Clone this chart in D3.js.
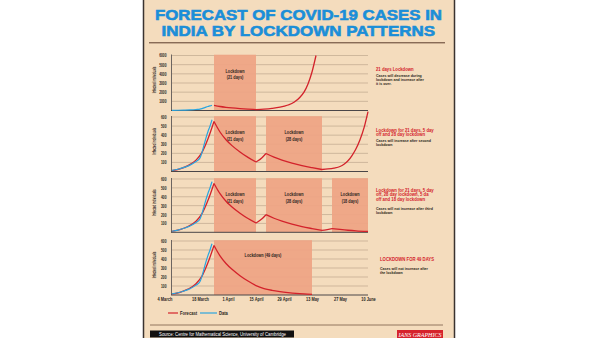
<!DOCTYPE html>
<html>
<head>
<meta charset="utf-8">
<script src="https://cdn.jsdelivr.net/npm/d3@7"></script>
<style>
  body { margin: 0; background: #fff; }
  svg { display: block; }
  text { font-family: "Liberation Sans", Arial, sans-serif; }
</style>
</head>
<body>
<svg id="chart" width="600" height="338"></svg>
<script>
// Reported cases
const observed = [
  ["2020-03-04", 12], ["2020-03-07", 25], ["2020-03-10", 45], ["2020-03-13", 70],
  ["2020-03-16", 110], ["2020-03-18", 150], ["2020-03-19", 210], ["2020-03-20", 290],
  ["2020-03-21", 370], ["2020-03-22", 440], ["2020-03-23", 500], ["2020-03-24", 570]
];

// Forecast pieces, one per phase
const riseToLockdown = [
  ["2020-03-04", 10], ["2020-03-08", 30], ["2020-03-12", 65], ["2020-03-16", 125],
  ["2020-03-19", 210], ["2020-03-22", 360], ["2020-03-25", 550]
];
const firstLockdown = [
  ["2020-03-25", 550], ["2020-03-28", 435], ["2020-03-31", 350], ["2020-04-03", 285],
  ["2020-04-07", 215], ["2020-04-11", 155], ["2020-04-15", 105]
];
const reopenAfter21 = [
  ["2020-04-19", 150], ["2020-04-23", 230], ["2020-04-27", 360], ["2020-05-01", 600],
  ["2020-05-04", 900], ["2020-05-07", 1450], ["2020-05-09", 2000], ["2020-05-11", 2900],
  ["2020-05-13", 4200], ["2020-05-15", 6000]
];
const fiveDayBreak = [["2020-04-16", 118], ["2020-04-18", 152], ["2020-04-20", 198]];
const secondLockdown = [
  ["2020-04-24", 158], ["2020-04-28", 126], ["2020-05-03", 92], ["2020-05-08", 64],
  ["2020-05-13", 42], ["2020-05-18", 22]
];
const reopenAfter28 = [
  ["2020-05-21", 28], ["2020-05-24", 38], ["2020-05-27", 55], ["2020-05-29", 80],
  ["2020-05-31", 118], ["2020-06-02", 175], ["2020-06-04", 250], ["2020-06-06", 350],
  ["2020-06-08", 480], ["2020-06-10", 660]
];
const secondBreak = [["2020-05-20", 28], ["2020-05-23", 42]];
const thirdLockdown = [["2020-05-27", 32], ["2020-05-31", 23], ["2020-06-04", 16], ["2020-06-10", 10]];
const longLockdown = [
  ["2020-04-19", 72], ["2020-04-23", 52], ["2020-04-27", 38], ["2020-05-01", 27],
  ["2020-05-05", 18], ["2020-05-09", 12], ["2020-05-13", 8]
];

// Lockdown windows
const lockdowns21 = [["2020-03-25", "2020-04-15", "(21 days)"]];
const lockdowns21_28 = [["2020-03-25", "2020-04-15", "(21 days)"], ["2020-04-20", "2020-05-18", "(28 days)"]];
const lockdowns21_28_18 = [...lockdowns21_28, ["2020-05-23", "2020-06-10", "(18 days)"]];
const lockdowns49 = [["2020-03-25", "2020-05-13", "(49 days)"]];

const ticksThousands = [1000, 2000, 3000, 4000, 5000, 6000];
const ticksHundreds = [100, 200, 300, 400, 500, 600];
const xTicks = ["2020-03-04", "2020-03-18", "2020-04-01", "2020-04-15", "2020-04-29", "2020-05-13", "2020-05-27", "2020-06-10"];

const notes = [
  { head: ["21 days Lockdown"], body: ["Cases will decrease during", "lockdown and increase after", "it is over."] },
  { head: ["Lockdown for 21 days, 5 day", "off and 28 day lockdown"], body: ["Cases will increase after second", "lockdown"] },
  { head: ["Lockdown for 21 days, 5 day", "off, 28 day lockdown, 5 da", "off and 18 day lockdown"], body: ["Cases will not increase after third", "lockdown"] },
  { head: ["LOCKDOWN FOR 49 DAYS"], body: ["Cases will not increase after", "the lockdown"] }
];

const parse = d3.timeParse("%Y-%m-%d");
const toPts = arr => arr.map(([d, v]) => [parse(d), v]);

const panels = [
  { max: 6000, ticks: ticksThousands, y0: 110.5, y1: 55.5, windows: lockdowns21,
    phases: [firstLockdown, reopenAfter21], note: notes[0], headY: 70.5, bodyY: 77.4, noteX: 376 },
  { max: 600, ticks: ticksHundreds, y0: 171.5, y1: 117, windows: lockdowns21_28,
    phases: [riseToLockdown, firstLockdown, fiveDayBreak, secondLockdown, reopenAfter28], note: notes[1], headY: 131.6, bodyY: 142, noteX: 376 },
  { max: 600, ticks: ticksHundreds, y0: 232.3, y1: 179, windows: lockdowns21_28_18,
    phases: [riseToLockdown, firstLockdown, fiveDayBreak, secondLockdown, secondBreak, thirdLockdown], note: notes[2], headY: 191.5, bodyY: 210, noteX: 376 },
  { max: 600, ticks: ticksHundreds, y0: 295, y1: 241, windows: lockdowns49,
    phases: [riseToLockdown, firstLockdown.concat(longLockdown)], note: notes[3], headY: 261.3, bodyY: 270, noteX: 380 }
];

const svg = d3.select("#chart");
const RED = "#d3222b", BLUE = "#2aa5df", INK = "#2a2420";

function squeeze(sel, k) {
  sel.each(function () {
    const w = this.getComputedTextLength();
    d3.select(this).attr("textLength", w * k).attr("lengthAdjust", "spacingAndGlyphs");
  });
}

// Poster background and side borders
svg.append("rect").attr("x", 143).attr("y", 0).attr("width", 312).attr("height", 338).attr("fill", "#f4dcbd");
[143.5, 454.5].forEach(bx => svg.append("line").attr("x1", bx).attr("x2", bx).attr("y1", 0).attr("y2", 338)
  .attr("stroke", "#3a3330").attr("stroke-width", 1.5));

// Headline
const title = svg.append("g").attr("fill", "#1b8ed8").attr("stroke", "#1b8ed8").attr("stroke-width", 0.6)
  .style("font-family", "Lato, 'DejaVu Sans', sans-serif").style("font-weight", 900).style("font-size", "15px");
title.append("text").attr("x", 155).attr("y", 19.5).attr("textLength", 287).attr("lengthAdjust", "spacingAndGlyphs")
  .text("FORECAST OF COVID-19 CASES IN");
title.append("text").attr("x", 161.5).attr("y", 36).attr("textLength", 273.5).attr("lengthAdjust", "spacingAndGlyphs")
  .text("INDIA BY LOCKDOWN PATTERNS");
svg.append("line").attr("x1", 149).attr("x2", 445).attr("y1", 42.8).attr("y2", 42.8)
  .attr("stroke", "#5a3b2b").attr("stroke-width", 1);

const x = d3.scaleTime().domain([parse("2020-03-04"), parse("2020-06-10")]).range([172, 368]);

panels.forEach(p => {
  const y = d3.scaleLinear().domain([0, p.max]).range([p.y0, p.y1]);
  const g = svg.append("g");

  // gridlines
  g.selectAll("line.grid").data(p.ticks).join("line")
    .attr("x1", 172).attr("x2", 368).attr("y1", d => y(d)).attr("y2", d => y(d))
    .attr("stroke", "#bfa88e").attr("stroke-width", 0.7);

  // lockdown windows
  p.windows.forEach(([s, e, label]) => {
    const x0 = x(parse(s)), x1 = x(parse(e));
    g.append("rect").attr("x", x0).attr("y", y(p.max) - 0.8).attr("width", x1 - x0).attr("height", y(0) - y(p.max) + 0.8)
      .attr("fill", "#eea485").attr("opacity", 0.95);
    const cx = (x0 + x1) / 2;
    const lbl = g.append("g").attr("fill", INK).style("font-size", "5.5px").style("font-weight", "bold")
      .attr("text-anchor", "middle");
    if (p.windows === lockdowns49) {
      lbl.append("text").attr("x", cx).attr("y", y(p.max) + 16).text("Lockdown " + label);
    } else {
      lbl.append("text").attr("x", cx).attr("y", y(p.max) + 17).text("Lockdown");
      lbl.append("text").attr("x", cx).attr("y", y(p.max) + 23.6).text(label);
    }
    squeeze(lbl.selectAll("text"), 0.7);
  });

  // axes
  const ya = g.append("g").attr("transform", "translate(172,0)")
    .call(d3.axisLeft(y).tickValues(p.ticks).tickSize(0).tickPadding(5.5).tickFormat(d3.format("d")));
  ya.select(".domain").remove();
  ya.selectAll("text").attr("fill", INK).style("font-size", "4.6px").style("font-weight", "bold")
    .style("font-family", "'Liberation Sans', Arial, sans-serif");
  squeeze(ya.selectAll("text"), 0.72);

  g.append("line").attr("x1", 171.5).attr("x2", 171.5).attr("y1", y(p.max) - 1).attr("y2", y(0))
    .attr("stroke", "#4a4648").attr("stroke-width", 0.8);
  g.append("line").attr("x1", 171).attr("x2", 368).attr("y1", y(0)).attr("y2", y(0))
    .attr("stroke", "#4a4648").attr("stroke-width", 1);

  const yl = g.append("text")
    .attr("transform", `translate(156,${(p.y0 + p.y1) / 2 - 3}) rotate(-90)`)
    .attr("text-anchor", "middle").attr("fill", INK).style("font-size", "4.6px").style("font-weight", "bold")
    .text("Infected individuals");
  squeeze(yl, 0.62);

  // curves
  const line = d3.line().x(d => x(d[0])).y(d => y(d[1])).curve(d3.curveMonotoneX);
  let prev = null;
  p.phases.forEach(ph => {
    let pts = toPts(ph);
    if (prev && +prev[0] !== +pts[0][0]) pts = [prev, ...pts];
    g.append("path").attr("d", line(pts)).attr("fill", "none").attr("stroke", RED)
      .attr("stroke-width", 1.3).attr("stroke-linejoin", "round");
    prev = pts[pts.length - 1];
  });
  g.append("path").attr("d", line(toPts(observed))).attr("fill", "none").attr("stroke", BLUE)
    .attr("stroke-width", 1.2);

  // side notes
  const n = svg.append("g");
  const head = n.selectAll("text.head").data(p.note.head).join("text")
    .attr("x", p.noteX).attr("y", (d, i) => p.headY + i * 4.8)
    .attr("fill", RED).style("font-size", "5.3px").style("font-weight", "bold").text(d => d);
  squeeze(head, 0.8);
  const body = n.selectAll("text.body").data(p.note.body).join("text")
    .attr("x", p.noteX).attr("y", (d, i) => p.bodyY + i * 3.9)
    .attr("fill", INK).style("font-size", "4.3px").style("font-weight", "bold").text(d => d);
  squeeze(body, 0.83);
});

// date axis under the last panel
const xa = svg.append("g").attr("transform", "translate(0,295)")
  .call(d3.axisBottom(x).tickValues(xTicks.map(parse)).tickSize(0).tickPadding(2.5)
    .tickFormat(d3.timeFormat("%-d %B")));
xa.select(".domain").remove();
xa.selectAll("text").attr("fill", INK).style("font-size", "5px").style("font-weight", "bold")
  .style("font-family", "'Liberation Sans', Arial, sans-serif");
xa.selectAll(".tick").filter((d, i) => i === 0).select("text").attr("text-anchor", "end").attr("dx", "-0.2");
squeeze(xa.selectAll("text"), 0.78);

// legend
const legend = svg.append("g").attr("transform", "translate(168,313)");
[["Forecast", RED, 0, 10], ["Data", BLUE, 32, 17]].forEach(([label, col, lx, len]) => {
  legend.append("line").attr("x1", lx).attr("x2", lx + len).attr("y1", 0).attr("y2", 0)
    .attr("stroke", col).attr("stroke-width", 1.2);
  const t = legend.append("text").attr("x", lx + len + 2).attr("y", 1.7).attr("fill", INK)
    .style("font-size", "5px").style("font-weight", "bold").text(label);
  squeeze(t, 0.82);
});

// footer
svg.append("line").attr("x1", 150).attr("x2", 443).attr("y1", 325).attr("y2", 325)
  .attr("stroke", "#7a5c47").attr("stroke-width", 0.8);
svg.append("rect").attr("x", 150).attr("y", 330.5).attr("width", 144).attr("height", 7).attr("fill", "#111");
svg.append("text").attr("x", 159).attr("y", 335.8).attr("fill", "#fff").style("font-size", "4.6px")
  .attr("textLength", 127).attr("lengthAdjust", "spacingAndGlyphs")
  .text("Source: Centre for Mathematical Science, University of Cambridge");
svg.append("rect").attr("x", 397).attr("y", 330).attr("width", 46).attr("height", 8).attr("fill", "#d6232c");
svg.append("text").attr("x", 398.5).attr("y", 336.6).attr("fill", "#fff")
  .style("font-family", "'Liberation Serif', 'DejaVu Serif', serif").style("font-style", "italic")
  .style("font-size", "7px").attr("textLength", 43).attr("lengthAdjust", "spacingAndGlyphs")
  .text("IANS GRAPHICS");
</script>
</body>
</html>
